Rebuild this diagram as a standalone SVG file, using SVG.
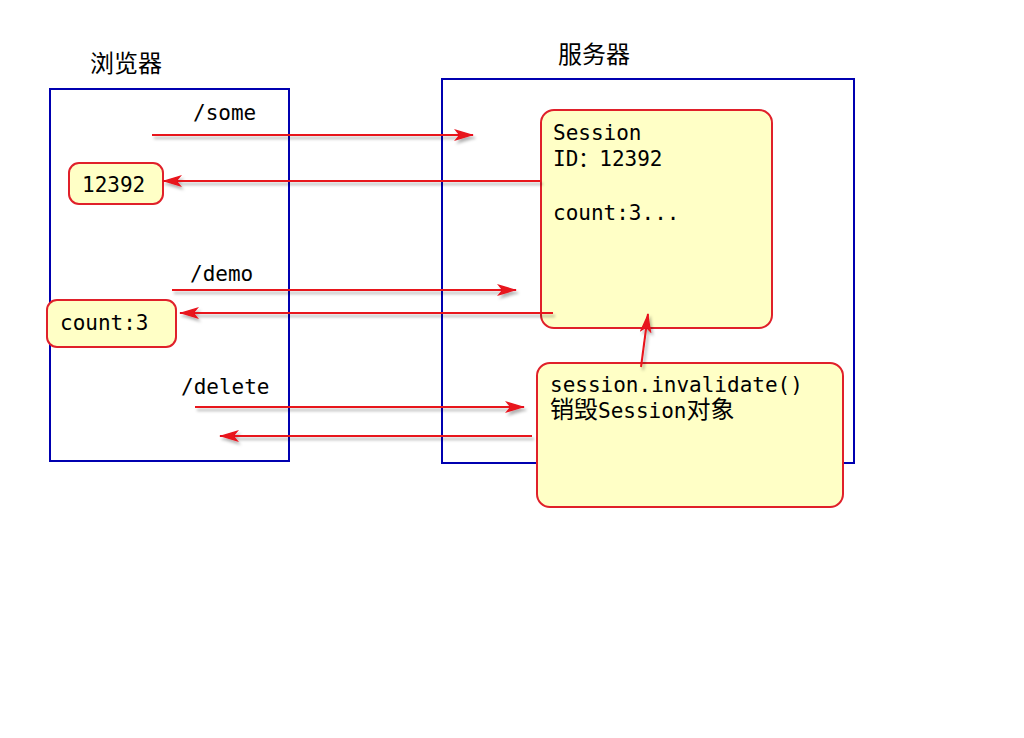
<svg xmlns="http://www.w3.org/2000/svg" width="1024" height="738" viewBox="0 0 1024 738">
<defs>
<style>
.frame{fill:none;stroke:#0000b0;stroke-width:2}
.note{fill:#ffffc6;stroke:#e0202a;stroke-width:2}
.mono{font-family:"DejaVu Sans Mono","Liberation Mono","Noto Sans CJK SC",monospace;font-size:21px;fill:#000}
.cjk{font-size:24px}
.title{font-family:"Noto Sans CJK SC",sans-serif;font-size:24px;fill:#000}
.line{stroke:#e8121c;stroke-width:2;fill:none}
</style>
<marker id="ah" viewBox="0 0 20 12" refX="19" refY="6" markerWidth="20" markerHeight="12" markerUnits="userSpaceOnUse" orient="auto">
<path d="M0,0 L20,6 L0,12 L5,6 Z" fill="#e8121c"/>
</marker>
<filter id="sh" x="-10%" y="-50%" width="120%" height="300%">
<feDropShadow dx="2" dy="3" stdDeviation="1.5" flood-color="#000" flood-opacity="0.3"/>
</filter>
</defs>
<rect width="1024" height="738" fill="#fff"/>
<g id="browser">
<rect class="frame" x="50" y="89" width="239" height="372"/>
<text class="title" x="90" y="72">浏览器</text>
</g>
<g id="server">
<rect class="frame" x="442" y="79" width="412" height="384"/>
<text class="title" x="558" y="63">服务器</text>
</g>
<g id="session">
<rect class="note" x="541" y="110" width="231" height="218" rx="13"/>
<text class="mono" x="553" y="140">Session</text>
<text class="mono" x="553" y="166">ID：12392</text>
<text class="mono" x="553" y="220">count:3...</text>
</g>
<g id="cookie">
<rect class="note" x="69" y="163" width="94" height="41" rx="10"/>
<text class="mono" x="82" y="192">12392</text>
</g>
<g id="count">
<rect class="note" x="47" y="300" width="129" height="47" rx="10"/>
<text class="mono" x="60" y="330">count:3</text>
</g>
<g id="invalidate">
<rect class="note" x="537" y="363" width="306" height="144" rx="13"/>
<text class="mono" x="550" y="392">session.invalidate()</text>
<text class="mono" x="550" y="418"><tspan class="cjk">销毁</tspan>Session<tspan class="cjk">对象</tspan></text>
</g>
<g id="connectors" filter="url(#sh)">
<line class="line" x1="152" y1="135" x2="473" y2="135" marker-end="url(#ah)"/>
<line class="line" x1="541" y1="181" x2="163" y2="181" marker-end="url(#ah)"/>
<line class="line" x1="172" y1="290" x2="516" y2="290" marker-end="url(#ah)"/>
<line class="line" x1="553" y1="313" x2="180" y2="313" marker-end="url(#ah)"/>
<line class="line" x1="195" y1="407" x2="524" y2="407" marker-end="url(#ah)"/>
<line class="line" x1="532" y1="436" x2="220" y2="436" marker-end="url(#ah)"/>
<line class="line" x1="641" y1="367" x2="648" y2="314" marker-end="url(#ah)"/>
</g>
<g id="labels">
<text class="mono" x="193" y="120">/some</text>
<text class="mono" x="190" y="281">/demo</text>
<text class="mono" x="181" y="394">/delete</text>
</g>
</svg>
